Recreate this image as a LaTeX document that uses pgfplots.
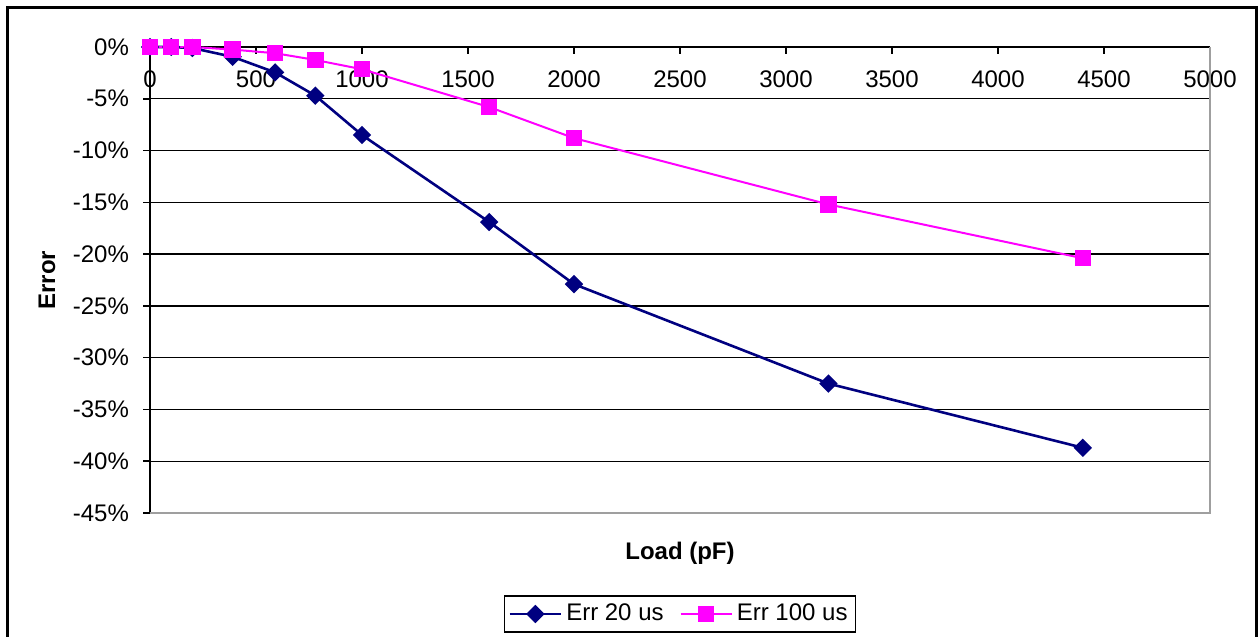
\documentclass[border=0pt]{standalone}
\usepackage{pgfplots}
\pgfplotsset{compat=1.18}
\usepackage{fontspec}
\setmainfont{Liberation Sans}
\definecolor{navyc}{RGB}{0,0,128}
\definecolor{pinkc}{RGB}{255,0,255}
\begin{document}
\begin{tikzpicture}
\useasboundingbox (0,0) rectangle (630pt,-318.5pt);
\draw[black, line width=1.5pt] (3.5pt,-3.5pt) rectangle (628pt,-340pt);
\begin{axis}[
  at={(75pt,-23.5pt)}, anchor=north west,
  scale only axis, width=530pt, height=233pt,
  xmin=0, xmax=5000, ymin=-45, ymax=0,
  axis x line*=top, axis y line*=left,
  axis line style={black, line width=0.8pt, -},
  xtick={0,500,...,5000},
  ytick={0,-5,-10,-15,-20,-25,-30,-35,-40,-45},
  yticklabels={0\%,-5\%,-10\%,-15\%,-20\%,-25\%,-30\%,-35\%,-40\%,-45\%},
  tick align=outside, major tick length=3.5pt,
  tick style={black, line width=0.8pt},
  xtick style={yshift=-3.5pt},
  x tick label style={anchor=north, yshift=-12pt},
  y tick label style={xshift=-3.5pt},
  tick label style={font=\fontsize{12}{14}\selectfont},
  /pgf/number format/assume math mode=true,
  /pgf/number format/1000 sep={},
  ymajorgrids, major grid style={black, line width=0.7pt},
  clip=false,
  legend columns=2,
  legend style={at={(0.5,-0.2167)}, anchor=center, draw=black, line width=0.7pt,
    font=\fontsize{12}{14}\selectfont, inner sep=2pt,
    /tikz/every even column/.append style={column sep=6pt}},
  legend image code/.code={\draw[mark repeat=2,mark phase=2] plot coordinates {(0cm,0cm)(0.45cm,0cm)(0.9cm,0cm)};},
]
\draw[gray!75, line width=1.2pt] (rel axis cs:0,0) -- (rel axis cs:1,0) -- (rel axis cs:1,1);
\addplot[navyc, line width=1.3pt, mark=square*, mark size=2.6pt, mark options={solid, fill=navyc, rotate=45}]
  coordinates {(0,0) (100,0) (200,-0.1) (390,-0.95) (590,-2.45) (780,-4.7) (1000,-8.5) (1600,-16.9) (2000,-22.9) (3200,-32.5) (4400,-38.7)};
\addlegendentry{Err 20 us}
\addplot[pinkc, line width=1pt, mark=square*, mark size=3.6pt, mark options={solid, fill=pinkc}]
  coordinates {(0,0) (100,0) (200,0) (390,-0.25) (590,-0.6) (780,-1.25) (1000,-2.15) (1600,-5.8) (2000,-8.8) (3200,-15.2) (4400,-20.4)};
\addlegendentry{Err 100 us}
\end{axis}
\node[font=\bfseries\fontsize{12}{14}\selectfont, rotate=90] at (23.5pt,-140pt) {Error};
\node[font=\bfseries\fontsize{12}{14}\selectfont] at (340pt,-276.5pt) {Load (pF)};
\end{tikzpicture}
\end{document}
